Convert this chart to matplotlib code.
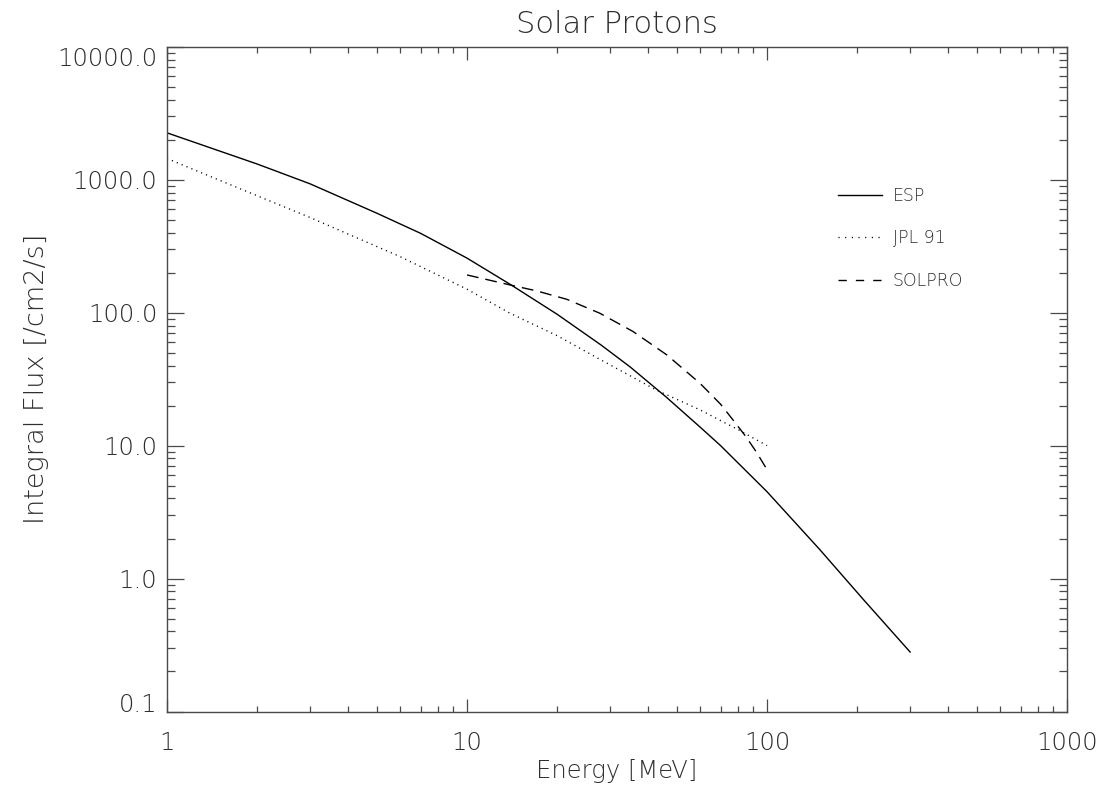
import matplotlib
matplotlib.use("Agg")
import matplotlib.pyplot as plt
from matplotlib.ticker import FixedLocator, LogLocator, NullFormatter, FixedFormatter
from matplotlib.lines import Line2D

# Integral solar proton fluence models
esp_energy = [1, 2, 3, 5, 7, 10, 14, 20, 28, 35, 46, 60, 70, 100, 150, 209, 300]
esp_flux = [2250, 1310, 930, 560, 395, 257, 162, 97, 57, 39, 23.3, 13.7, 10, 4.5, 1.65, 0.70, 0.28]

jpl_energy = [1, 1.48, 3, 6, 10, 13.9, 20, 28, 43, 60, 80, 100]
jpl_flux = [1443, 1000, 519, 263, 150, 99, 67, 44, 26, 18.5, 13.2, 10]

solpro_energy = [10, 14, 17, 21.5, 27.7, 35.8, 46.4, 59.8, 70, 77.2, 85, 92, 100]
solpro_flux = [192, 161, 146, 126, 99, 72, 48, 29.4, 20.5, 15.5, 11.7, 9.0, 6.6]

x_ticks = [1, 10, 100, 1000]
x_tick_labels = ["1", "10", "100", "1000"]
y_ticks = [0.1, 1, 10, 100, 1000, 10000]
y_tick_labels = ["0.1", "1.0", "10.0", "100.0", "1000.0", "10000.0"]

text_color = "#2e2e2e"
axis_color = "#4a4a4a"

plt.rcParams.update({
    "lines.scale_dashes": False,
    "font.family": ["DejaVu Sans"],
    "font.weight": "light",
    "xtick.direction": "in",
    "ytick.direction": "in",
    "xtick.top": True,
    "ytick.right": True,
    "xtick.major.pad": 14,
    "ytick.major.pad": 7,
    "xtick.major.size": 9.4,
    "xtick.minor.size": 4.3,
    "ytick.major.size": 12.2,
    "ytick.minor.size": 5.8,
    "xtick.major.width": 0.9,
    "xtick.minor.width": 0.9,
    "ytick.major.width": 0.9,
    "ytick.minor.width": 0.9,
    "xtick.color": axis_color,
    "ytick.color": axis_color,
    "xtick.labelcolor": text_color,
    "ytick.labelcolor": text_color,
    "xtick.labelsize": 17.5,
    "ytick.labelsize": 17.5,
    "axes.edgecolor": axis_color,
    "axes.linewidth": 1.0,
})
font = dict(family=["DejaVu Sans"], weight="light", color=text_color)

fig = plt.figure(figsize=(11.05, 7.89), dpi=100)
ax = fig.add_axes([167 / 1105, 1 - 711.5 / 789, 900 / 1105, 664.8 / 789])

ax.plot(esp_energy, esp_flux, color="black", lw=1.0, ls="-", label="ESP")
ax.plot(jpl_energy, jpl_flux, color="black", lw=1.0, ls=(0, (0.8, 3.0)), label="JPL 91")
ax.plot(solpro_energy, solpro_flux, color="black", lw=1.0, ls=(0, (8.5, 5.0)), label="SOLPRO")

ax.set_xscale("log")
ax.set_yscale("log")
ax.set_xlim(1, 1000)
ax.set_ylim(0.1, 10000)

ax.xaxis.set_major_locator(FixedLocator(x_ticks))
ax.xaxis.set_major_formatter(FixedFormatter(x_tick_labels))
ax.yaxis.set_major_locator(FixedLocator(y_ticks))
ax.yaxis.set_major_formatter(FixedFormatter(y_tick_labels))
ax.xaxis.set_minor_locator(LogLocator(base=10, subs=range(2, 10), numticks=20))
ax.yaxis.set_minor_locator(LogLocator(base=10, subs=range(2, 10), numticks=20))
ax.xaxis.set_minor_formatter(NullFormatter())
ax.yaxis.set_minor_formatter(NullFormatter())

# keep the end labels of the y axis inside the plot range
y_major = ax.yaxis.get_major_ticks()
y_major[0].label1.set_va("baseline")
y_major[-1].label1.set_va("top")

ax.set_title("Solar Protons", fontsize=22, pad=10, **font)
ax.set_xlabel("Energy [MeV]", fontsize=17.5, **font)
ax.xaxis.label.set_va("baseline")
ax.xaxis.set_label_coords(0.5, (711.5 - 778) / 664.8)
ax.set_ylabel("Integral Flux [/cm2/s]", fontsize=19.5, **font)
ax.yaxis.label.set_va("baseline")
ax.yaxis.set_label_coords((44 - 167) / 900, 0.5)

legend_handles = [
    Line2D([], [], color="black", lw=1.0, ls="-"),
    Line2D([], [], color="black", lw=1.0, ls=(0, (0.8, 4.0))),
    Line2D([], [], color="black", lw=1.0, ls=(0, (6.0, 6.5))),
]
leg = ax.legend(legend_handles, ["ESP", "JPL 91", "SOLPRO"], frameon=False,
                loc="upper left", bbox_to_anchor=((838 - 167) / 900, (711.5 - 187) / 664.8),
                borderaxespad=0, borderpad=0, handlelength=2.55, handletextpad=0.6,
                labelspacing=1.4, prop=dict(family=["DejaVu Sans"], weight="light", size=12.5))
for t in leg.get_texts():
    t.set_color(text_color)

fig.savefig("out.png", dpi=100)
